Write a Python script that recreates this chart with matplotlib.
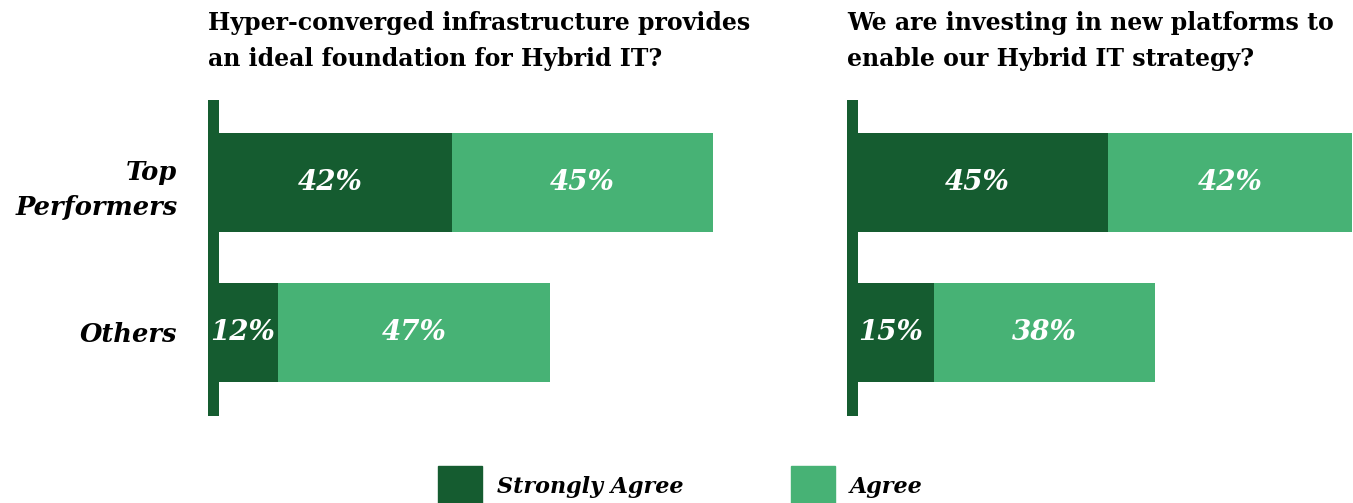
import matplotlib.pyplot as plt
from matplotlib.patches import Rectangle

# data
groups = ['Others', 'Top\nPerformers']
titles = ['Hyper-converged infrastructure provides\nan ideal foundation for Hybrid IT?',
          'We are investing in new platforms to\nenable our Hybrid IT strategy?']
strongly_agree = [[12, 42], [15, 45]]
agree = [[47, 45], [38, 42]]
series_names = ['Strongly Agree', 'Agree']

dark = '#155C30'
light = '#47B275'
colors = [dark, light]

W, H = 1353, 503
fig = plt.figure(figsize=(W / 100, H / 100), dpi=100)

serif = 'DejaVu Serif'
lefts = [208, 847]
for i, left in enumerate(lefts):
    ax = fig.add_axes([left / W, 1 - 416 / H, 505 / W, 316 / H])
    y = range(len(groups))
    sa = strongly_agree[i]
    ag = agree[i]
    ax.barh(y, sa, height=0.66, color=dark)
    ax.barh(y, ag, left=sa, height=0.66, color=light)
    for k in y:
        ax.text(sa[k] / 2, k, f'{sa[k]}%', ha='center', va='center', color='white',
                fontsize=20, fontweight='bold', style='italic', family=serif)
        ax.text(sa[k] + ag[k] / 2, k, f'{ag[k]}%', ha='center', va='center', color='white',
                fontsize=20, fontweight='bold', style='italic', family=serif)
    ax.axvspan(0, 11 / 5.8, color=dark, lw=0)
    ax.set_xlim(0, 87)
    ax.set_ylim(-0.557, 1.55)
    for s in ax.spines.values():
        s.set_visible(False)
    ax.set_xticks([])
    if i == 0:
        ax.set_yticks(list(y))
        ax.set_yticklabels(groups, fontsize=18.5, fontweight='bold', style='italic',
                           family=serif, linespacing=1.5)
        ax.tick_params(axis='y', length=0, pad=22)
    else:
        ax.set_yticks([])
    fig.text(left / W, 1 - 11 / H, titles[i], ha='left', va='top', fontsize=17,
             fontweight='bold', family=serif, linespacing=1.65)

# legend
leg_x = [438, 791]
for name, c, x in zip(series_names, colors, leg_x):
    fig.add_artist(Rectangle((x / W, 1 - 510 / H), 44 / W, 44 / H, color=c,
                             transform=fig.transFigure))
    fig.text((x + 59) / W, 1 - 487 / H, name, ha='left', va='center', fontsize=16,
             fontweight='bold', style='italic', family=serif)

fig.savefig('out.png', dpi=100)
